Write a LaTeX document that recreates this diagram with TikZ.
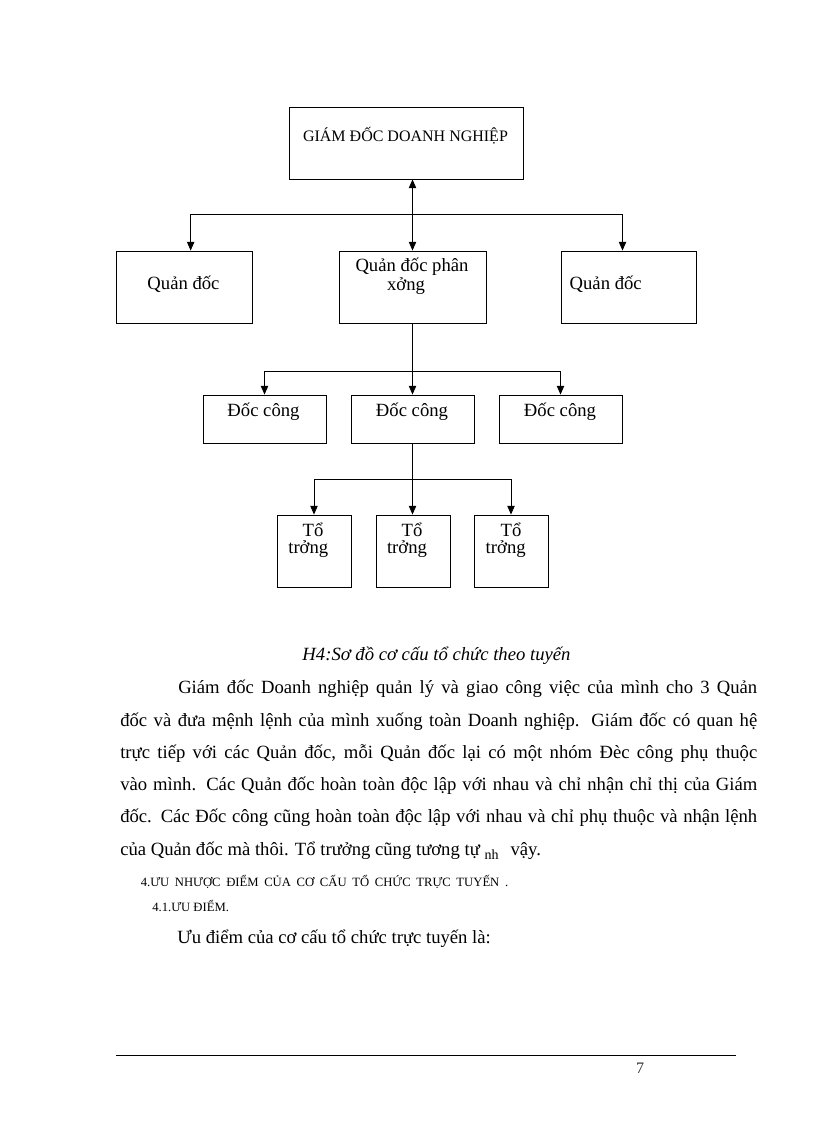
\documentclass[tikz,border=0pt]{standalone}
\usepackage{fontspec}
\setmainfont{Liberation Serif}
\usetikzlibrary{arrows.meta,fit}
\begin{document}
\begin{tikzpicture}[x=0.75pt,y=-0.75pt,
  box/.style={draw,line width=0.65pt,inner sep=0pt},
  lbl/.style={anchor=base,inner sep=0pt,font=\fontsize{14pt}{16pt}\selectfont},
  arr/.style={line width=0.65pt,-{Triangle[width=5.5pt,length=6.5pt]}},
  twoway/.style={line width=0.65pt,{Triangle[width=5.5pt,length=6.5pt]}-{Triangle[width=5.5pt,length=6.5pt]}},
  body/.style={anchor=base west,inner sep=0pt,font=\fontsize{14pt}{16pt}\selectfont},
  head/.style={anchor=base west,inner sep=0pt,font=\fontsize{9.5pt}{11pt}\selectfont}]
\useasboundingbox[fill=white] (0,0) rectangle (816,1123);

% boxes
\node[box,fit={(289,107) (523,179)}] (gd) {};
\node[box,fit={(116,251) (252,323)}] (q1) {};
\node[box,fit={(339,251) (486,323)}] (qp) {};
\node[box,fit={(561,251) (696,323)}] (q3) {};
\node[box,fit={(203,395) (326,443)}] (d1) {};
\node[box,fit={(351,395) (474,443)}] (d2) {};
\node[box,fit={(499,395) (622,443)}] (d3) {};
\node[box,fit={(277,515) (351,587)}] (t1) {};
\node[box,fit={(376,515) (450,587)}] (t2) {};
\node[box,fit={(474,515) (548,587)}] (t3) {};

% box texts
\node[lbl,font=\fontsize{12pt}{14pt}\selectfont] (gdt) at (405.5,142) {GIÁM ĐỐC DOANH NGHIỆP};
\node[lbl] (q1t) at (183.5,289) {Quản đốc};
\node[lbl] (qpt1) at (412,272) {Quản đốc phân};
\node[lbl] (qpt2) at (406,290) {xởng};
\node[lbl] (q3t) at (605.7,289) {Quản đốc};
\node[lbl] (d1t) at (263.5,416) {Đốc công};
\node[lbl] (d2t) at (412,416) {Đốc công};
\node[lbl] (d3t) at (560,416) {Đốc công};
\node[lbl] (t1a) at (313,536) {Tổ};
\node[lbl] (t1b) at (308.3,553) {trởng};
\node[lbl] (t2a) at (412,536) {Tổ};
\node[lbl] (t2b) at (407,553) {trởng};
\node[lbl] (t3a) at (511,536) {Tổ};
\node[lbl] (t3b) at (505.7,553) {trởng};

% connectors
\coordinate (j1) at (412.5,214.5);
\coordinate (j2) at (412.5,371.5);
\coordinate (j3) at (412.5,479.5);
\draw[twoway] (gd.south -| qp.north) -- (qp.north);
\draw[arr] (j1) -| ([xshift=5pt]q1.north);
\draw[arr] (j1) -| ([xshift=-4.5pt]q3.north);
\draw[arr] (qp.south) -- (d2.north);
\draw[arr] (j2) -| (d1.north);
\draw[arr] (j2) -| (d3.north);
\draw[arr] (d2.south) -- (d2.south |- t2.north);
\draw[arr] (j3) -| (t1.north);
\draw[arr] (j3) -| (t3.north);

% caption
\node[anchor=base,inner sep=0pt,font=\fontsize{14pt}{16pt}\selectfont\itshape] (cap) at (436.5,660) {H4:Sơ đồ cơ cấu tổ chức theo tuyến};

% paragraph
\node[body] (p1) at (178,693) {\makebox[434.25pt][s]{Giám đốc Doanh nghiệp quản lý và giao công việc của mình cho 3 Quản}};
\node[body] (p2) at (120,726) {\makebox[477.75pt][s]{đốc và đưa mệnh lệnh của mình xuống toàn Doanh nghiệp. Giám đốc có quan hệ}};
\node[body] (p3) at (120,758) {\makebox[477.75pt][s]{trực tiếp với các Quản đốc, mỗi Quản đốc lại có một nhóm Đèc công phụ thuộc}};
\node[body] (p4) at (120,790) {\makebox[477.75pt][s]{vào mình. Các Quản đốc hoàn toàn độc lập với nhau và chỉ nhận chỉ thị của Giám}};
\node[body] (p5) at (120,822) {\makebox[477.75pt][s]{đốc. Các Đốc công cũng hoàn toàn độc lập với nhau và chỉ phụ thuộc và nhận lệnh}};
\node[body] (p6) at (120,855) {của Quản đốc mà thôi. Tổ trưởng cũng tương tự \raisebox{-3pt}{\fontsize{10.5pt}{12pt}\selectfont nh}\hspace{9pt}vậy.};

% headings
\node[head] (h1) at (140.5,886) {\makebox[275.6pt][s]{4.ƯU NHƯỢC ĐIỂM CỦA CƠ CẤU TỔ CHỨC TRỰC TUYẾN .}};
\node[head] (h2) at (152,911) {4.1.ƯU ĐIỂM.};
\node[anchor=base west,inner sep=0pt,font=\fontsize{14pt}{16pt}\selectfont] (h3) at (177,943) {Ưu điểm của cơ cấu tổ chức trực tuyến là:};

% footer
\coordinate (fl) at (116,1055.5);
\coordinate (fr) at (736,1055.5);
\draw[line width=0.65pt] (fl) -- (fr);
\node[anchor=base,inner sep=0pt,font=\fontsize{12pt}{14pt}\selectfont,text=black!80] (pg) at (640,1073) {7};
\end{tikzpicture}
\end{document}
